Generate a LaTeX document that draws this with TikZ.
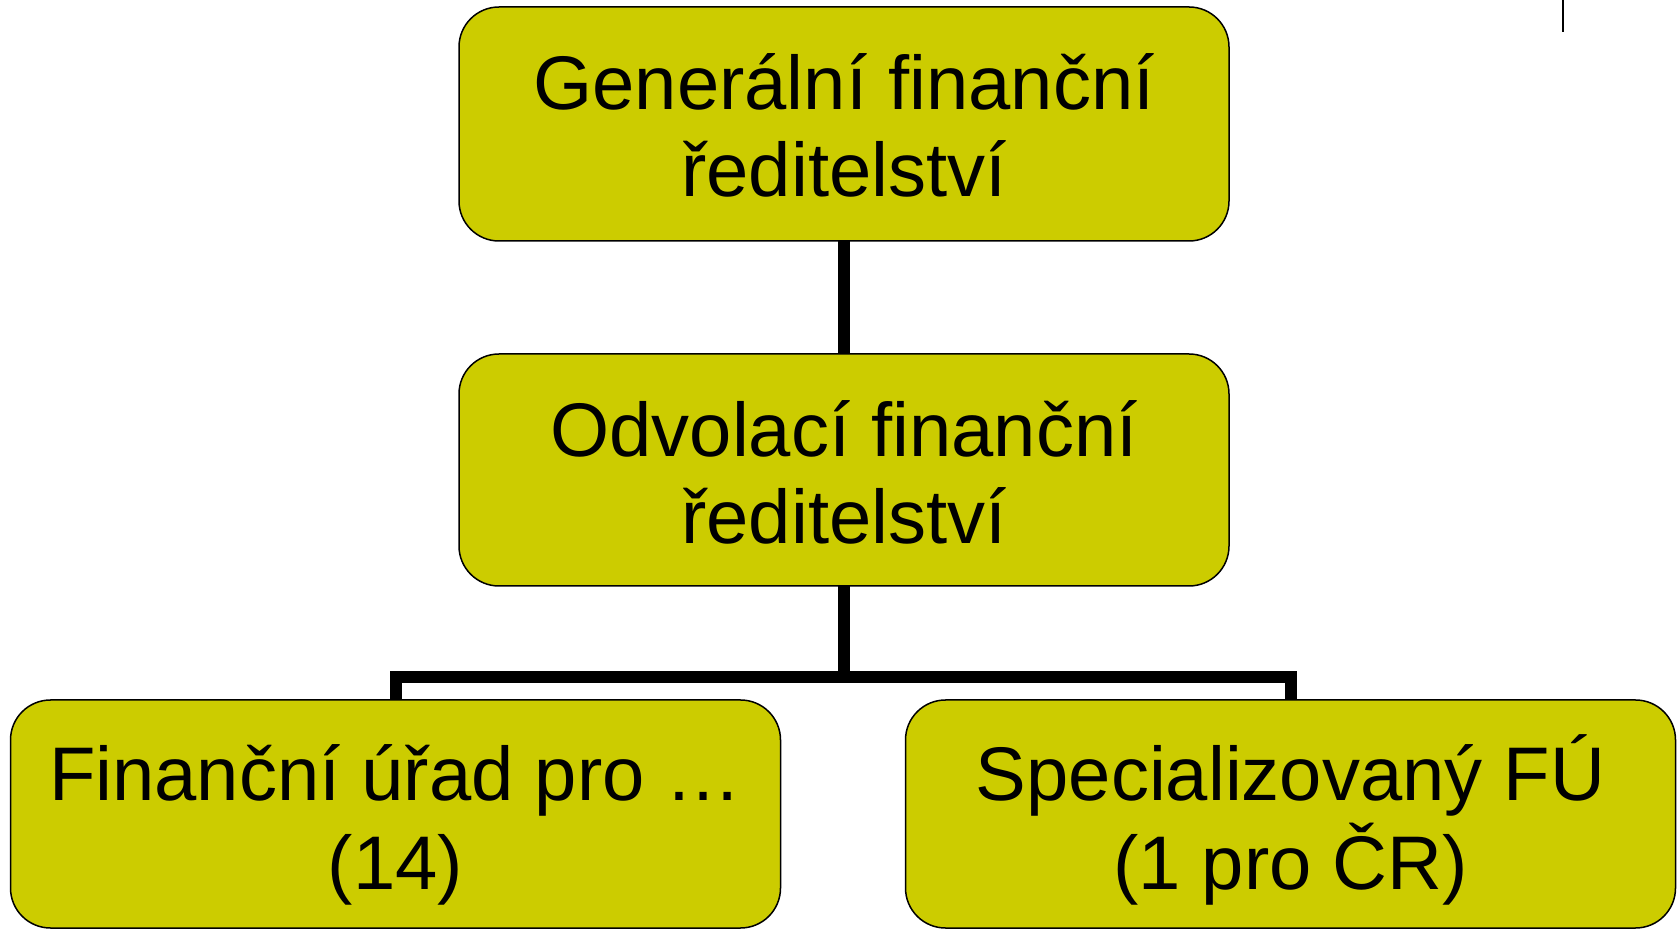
\documentclass[tikz,border=0pt]{standalone}
\usepackage{fontspec}
\setmainfont{Liberation Sans}
\definecolor{boxfill}{HTML}{CCCC00}
\begin{document}
\begin{tikzpicture}[x=1pt,y=1pt,
  orgbox/.style={draw=black, line width=1.5pt, fill=boxfill, rounded corners=40pt,
    minimum width=770pt, inner sep=0pt, outer sep=0pt},
  boxtext/.style={anchor=base, inner sep=0pt, font=\fontsize{76}{88}\selectfont},
  conn/.style={draw=black, line width=12pt, line join=miter}]
\useasboundingbox (0,0) rectangle (1680,929);
% boxes (y measured from top: y_tikz = 929 - y_px)
\node[orgbox, minimum height=234pt] (top) at (844,805) {};
\node[orgbox, minimum height=232pt] (mid) at (844,459) {};
\node[orgbox, minimum height=228pt] (bl) at (395.5,115) {};
\node[orgbox, minimum height=228pt] (br) at (1290.5,115) {};
% texts
\node[boxtext] (t1) at (844,819) {Generální finanční};
\node[boxtext] (t2) at (844,732) {ředitelství};
\node[boxtext] (m1) at (844,472) {Odvolací finanční};
\node[boxtext] (m2) at (844,385) {ředitelství};
\node[boxtext] (l1) at (395.5,129) {Finanční úřad pro …};
\node[boxtext] (l2) at (395.5,40) {(14)};
\node[boxtext] (r1) at (1290.5,129) {Specializovaný FÚ};
\node[boxtext] (r2) at (1290.5,40) {(1 pro ČR)};
% connectors
\coordinate (j) at (844,252);
\draw[conn] (top.south) -- (mid.north);
\draw[conn] (mid.south) -- (j);
\draw[conn] (bl.north) |- (j) -| (br.north);
% small mark at top right
\coordinate (m0) at (1563,929);
\coordinate (m1e) at (1563,897);
\draw[line width=2pt] (m0) -- (m1e);
\end{tikzpicture}
\end{document}
